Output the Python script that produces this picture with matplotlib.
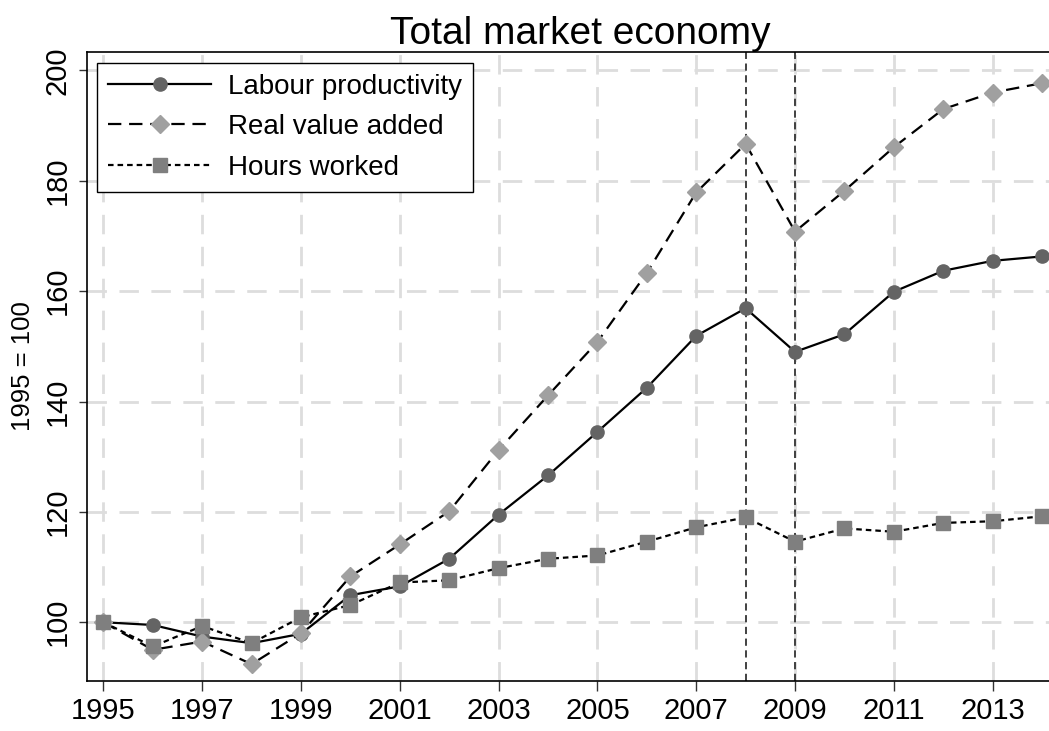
import numpy as np
import matplotlib.pyplot as plt

years = np.arange(1995, 2015)
labour_prod = [100, 99.5, 97.4, 96.2, 97.9, 104.9, 106.5, 111.5, 119.5, 126.6,
               134.5, 142.5, 151.9, 156.9, 149.0, 152.2, 159.9, 163.7, 165.5, 166.3]
real_va = [100, 95.0, 96.5, 92.4, 98.0, 108.3, 114.1, 120.1, 131.2, 141.1,
           150.8, 163.3, 177.9, 186.7, 170.8, 178.2, 186.1, 193.0, 196.0, 197.7]
hours = [100, 95.6, 99.3, 96.2, 100.9, 103.1, 107.2, 107.6, 109.8, 111.5,
         112.1, 114.6, 117.2, 119.0, 114.6, 117.0, 116.4, 118.0, 118.3, 119.2]
crisis_years = [2008, 2009]

plt.rcParams['font.family'] = ['Liberation Sans', 'DejaVu Sans']

fig = plt.figure(figsize=(10.49, 7.31), dpi=100)
ax = fig.add_axes([0.0827, 0.0688, 0.9173, 0.8597])

# grid
ax.grid(True, color='#dddddd', linewidth=2.0, linestyle=(0, (7, 4.5)), zorder=0)
ax.set_axisbelow(True)

for yr in crisis_years:
    ax.axvline(yr, color='#333333', linewidth=1.3, linestyle=(0, (4, 2.5)), zorder=1)

ax.plot(years, labour_prod, color='black', linewidth=1.6, linestyle='-',
        marker='o', markersize=9.5, markerfacecolor='#646464', markeredgecolor='#646464',
        label='Labour productivity', zorder=3)
ax.plot(years, real_va, color='black', linewidth=1.6, linestyle=(0, (6, 3.5)),
        marker='D', markersize=9, markerfacecolor='#a0a0a0', markeredgecolor='#a0a0a0',
        label='Real value added', zorder=3)
ax.plot(years, hours, color='black', linewidth=1.6, linestyle=(0, (2.5, 1.8)),
        marker='s', markersize=9.5, markerfacecolor='#7f7f7f', markeredgecolor='#7f7f7f',
        label='Hours worked', zorder=3)

ax.set_xlim(1994.664, 2014.14)
ax.set_ylim(89.4, 203.3)
ax.set_xticks(np.arange(1995, 2015, 2))
ax.set_yticks(np.arange(100, 201, 20))

ax.tick_params(axis='x', labelsize=21, length=7, width=1, color='#333333', pad=5)
ax.tick_params(axis='y', labelsize=21, length=6, width=1, color='#333333', pad=5,
               labelrotation=90)
for lab in ax.get_yticklabels():
    lab.set_va('center')

for s in ['left', 'bottom', 'top']:
    ax.spines[s].set_linewidth(1.2)
    ax.spines[s].set_color('black')
ax.spines['right'].set_visible(False)

ax.set_ylabel('1995 = 100', fontsize=18.5, labelpad=6)
ax.set_title('Total market economy', fontsize=28, x=0.5126, pad=3)

leg = ax.legend(loc='upper left', fontsize=20, frameon=True, fancybox=False,
                edgecolor='black', framealpha=1, handlelength=3.7, handletextpad=0.6,
                labelspacing=0.52, borderaxespad=0.37, borderpad=0.4)
leg.get_frame().set_linewidth(1.0)

plt.savefig('out.png', dpi=100)
